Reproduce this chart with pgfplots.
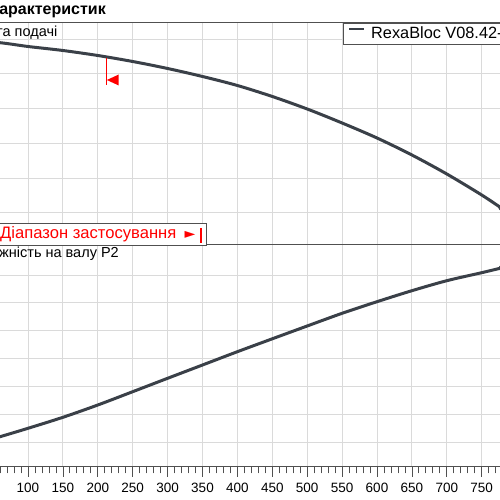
\documentclass[border=0pt]{standalone}
\usepackage{fontspec}
\setmainfont{Liberation Sans}
\newfontfamily\symfont{DejaVu Sans}
\usepackage{pgfplots}
\usepackage{pgfplotstable}
\pgfplotsset{compat=1.18}

\definecolor{curve}{RGB}{58,64,72}
\definecolor{gridc}{RGB}{218,218,218}
\definecolor{frame}{RGB}{80,80,80}

% head curve (y in px from the picture bottom)
\pgfplotstableread{
q h
0 461
60 457.3
100 453.5
150 449.5
200 444.5
250 438.5
300 431.5
350 423.5
400 414.5
450 403.5
500 391
550 377
600 362
650 345
700 326
750 305
778 292
}\headtab

% shaft power curve
\pgfplotstableread{
q p
0 51
60 63.3
100 71.7
150 82.7
200 95
250 108.3
300 121.7
350 135
400 148.3
450 161.2
500 174
550 186.7
600 198.3
650 209.3
700 219.3
750 227.3
778 232
}\powertab

\pgfplotsset{panel/.style={
  scale only axis, width=558.4pt, height=222pt,
  xmin=0, xmax=800, xtick={0,50,...,800},
  xmajorgrids, ymajorgrids,
  grid style={gridc, line width=0.9pt},
  axis line style={frame, line width=1pt},
  ytick style={draw=none}, yticklabels={},
  clip=true}}

\begin{document}
\begin{tikzpicture}
\path[use as bounding box, clip] (0pt,0pt) rectangle (500pt,500pt);

\begin{axis}[panel, at={(-41.8pt,255pt)}, anchor=south west,
  ymin=255, ymax=477,
  ytick={287.3,322,356.7,391.4,426.1,460.8},
  xticklabels={}, xtick style={draw=none},
  legend style={at={(axis description cs:0.6896,1)}, anchor=north west,
    draw=frame, line width=0.9pt, fill=white,
    inner xsep=5pt, inner ysep=2.35pt,
    nodes={inner sep=0pt, text height=13pt, text depth=3pt},
    font=\fontsize{16.3}{18}\selectfont, column sep=6pt},
  legend image code/.code={\draw[line width=1.5pt] (0pt,5pt) -- (15pt,5pt);}]
\addplot[curve, line width=3pt, smooth] table[x=q, y=h] {\headtab};
\addlegendentry{RexaBloc V08.42-4 n=1450}
\addplot[curve, only marks, mark=*, mark size=2.5pt, forget plot] coordinates {(778,292)};
\draw[red, line width=0.8pt] (axis cs:211.7,442) -- (axis cs:211.7,415);
\fill[red] (axis cs:213,420) -- (axis cs:230,425.5) -- (axis cs:230,414.5) -- cycle;
\end{axis}

\begin{axis}[panel, at={(-41.8pt,33pt)}, anchor=south west,
  ymin=33, ymax=255,
  ytick={57.3,85.25,113.2,141.15,169.1,197.05,225},
  minor x tick num=4, tick align=outside, xtick pos=left,
  major tick length=10pt, minor tick length=6.5pt,
  xtick style={frame, line width=0.8pt},
  xticklabel style={font=\fontsize{13.5}{15}\selectfont, yshift=-3pt},
  /pgf/number format/assume math mode=true]
\addplot[curve, line width=3pt, smooth] table[x=q, y=p] {\powertab};
\addplot[curve, only marks, mark=*, mark size=2.5pt] coordinates {(778,232)};
\end{axis}

% panel titles and range box
\node[anchor=base east, inner sep=0pt, font=\bfseries\fontsize{16}{18}\selectfont] at (106pt,485pt) {Криві характеристик};
\node[anchor=base east, inner sep=0pt, font=\fontsize{14.5}{16}\selectfont] at (57.5pt,463.3pt) {Висота подачі};
\node[anchor=base east, inner sep=0pt, font=\fontsize{14.5}{16}\selectfont] at (119pt,242.7pt) {Потужність на валу P2};

\draw[frame, fill=white, line width=0.9pt] (-10pt,255pt) rectangle (206.7pt,276.7pt);
\node[anchor=base west, inner sep=0pt, text=red, font=\fontsize{16.6}{18}\selectfont] at (0pt,261.3pt) {Діапазон застосування};
\node[anchor=base west, inner sep=0pt, text=red, font=\symfont\fontsize{14}{16}\selectfont] at (184.5pt,261.3pt) {►};
\draw[red, line width=2.2pt] (201pt,257pt) -- (201pt,272pt);
\end{tikzpicture}
\end{document}
